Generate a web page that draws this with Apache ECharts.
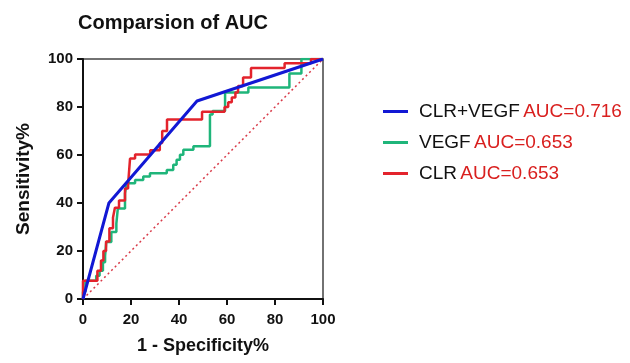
<!DOCTYPE html>
<html>
<head>
<meta charset="utf-8">
<script src="https://cdn.jsdelivr.net/npm/echarts@6/dist/echarts.min.js"></script>
<style>
  html, body { margin: 0; padding: 0; background: #fff; }
  #roc { width: 630px; height: 363px; }
</style>
</head>
<body>
<div id="roc"></div>
<script>
  // ROC steps: at fpr[i] the curve rises to tpr[i]
  var clrFpr = [0, 6, 7.5, 8.5, 9.6, 11, 12.5, 13.3, 15, 17.5, 18.8, 19.6, 21.7, 28, 32, 33, 35, 49.6, 59, 60.5, 62, 63.5, 64.6, 66.7, 70, 84, 95]
  var clrTpr = [7.6, 11.8, 16, 20, 24, 29.5, 34, 38, 41, 46, 48, 58.5, 60.2, 62, 65, 70, 74.8, 78, 80, 82, 84, 86, 88.8, 92.3, 96.2, 98.2, 100]

  var vegfFpr = [0, 1, 5.5, 6.9, 8.3, 9.2, 9.7, 11.8, 13.9, 14.5, 17.5, 18.2, 21.7, 25.1, 27.9, 34.9, 37.6, 39, 40.4, 41.8, 46, 52.9, 54, 59.2, 68.9, 86, 91]
  var vegfTpr = [3, 7.6, 9.7, 11.8, 15.3, 18, 23.7, 27.9, 31.4, 37.7, 44, 48.2, 49.6, 51, 52.4, 53.8, 55.9, 58, 60.1, 62.2, 63.6, 76.9, 78.3, 86, 88.1, 94, 100]

  var combX = [0, 10.8, 47.5, 100]
  var combY = [0, 40, 82.5, 100]

  var names = ['CLR+VEGF', 'VEGF', 'CLR']
  var aucs = ['0.716', '0.653', '0.653']
  var ticks = [0, 20, 40, 60, 80, 100]

  function stepPath(fpr, tpr) {
    var pts = [[0, 0]]
    var lastY = 0
    for (var i = 0; i < fpr.length; i++) {
      pts.push([fpr[i], lastY])
      pts.push([fpr[i], tpr[i]])
      lastY = tpr[i]
    }
    pts.push([100, lastY])
    return pts
  }

  function zip(xs, ys) {
    return xs.map(function (x, i) { return [x, ys[i]] })
  }

  var font = 'Liberation Sans, Arial, sans-serif'
  var myChart = echarts.init(document.getElementById('roc'))
  var option = {
    animation: false,
    title: {
      text: 'Comparsion of AUC',
      left: 168,
      top: 8,
      textAlign: 'center',
      textStyle: { fontFamily: font, fontSize: 20, fontWeight: 'bold', color: '#111' }
    },
    legend: {
      data: names,
      orient: 'vertical',
      left: 378,
      top: 97,
      itemWidth: 25,
      itemHeight: 3,
      itemGap: 12,
      icon: 'rect',
      selectedMode: false,
      formatter: function (name) {
        return '{n|' + name + '} {a|AUC=' + aucs[names.indexOf(name)] + '}'
      },
      textStyle: {
        padding: [0, 0, 0, 6],
        rich: {
          n: { fontFamily: font, fontSize: 19, color: '#111', lineHeight: 21 },
          a: { fontFamily: font, fontSize: 19, color: '#d9201f', lineHeight: 21 }
        }
      }
    },
    grid: {
      left: 83,
      right: 307,
      top: 59,
      bottom: 64,
      show: true,
      borderColor: '#444',
      borderWidth: 1.5
    },
    xAxis: {
      type: 'value',
      min: 0,
      max: 100,
      interval: 20,
      name: '1 - Specificity%',
      nameLocation: 'middle',
      nameGap: 38,
      nameTextStyle: { fontFamily: font, fontSize: 18, fontWeight: 'bold', color: '#111' },
      axisLine: { lineStyle: { color: '#111', width: 2 } },
      axisTick: { length: 6, lineStyle: { color: '#111', width: 2 } },
      axisLabel: {
        margin: 13,
        fontFamily: font, fontSize: 15, fontWeight: 'bold', color: '#111',
        formatter: function (v) { return ticks.indexOf(v) >= 0 ? String(v) : '' }
      },
      splitLine: { show: false }
    },
    yAxis: {
      type: 'value',
      min: 0,
      max: 100,
      interval: 20,
      name: 'Sensitivity%',
      nameLocation: 'middle',
      nameGap: 50,
      nameTextStyle: { fontFamily: font, fontSize: 19, fontWeight: 'bold', color: '#111' },
      axisLine: { show: true, lineStyle: { color: '#111', width: 2 } },
      axisTick: { show: true, length: 6, lineStyle: { color: '#111', width: 2 } },
      axisLabel: {
        margin: 10,
        fontFamily: font, fontSize: 15, fontWeight: 'bold', color: '#111'
      },
      splitLine: { show: false }
    },
    series: [
      {
        name: 'ref',
        type: 'line',
        data: [[0, 0], [100, 100]],
        symbol: 'none',
        silent: true,
        lineStyle: { color: '#d83a48', width: 1.5, type: [2, 3] },
        z: 1
      },
      {
        name: 'VEGF',
        type: 'line',
        data: stepPath(vegfFpr, vegfTpr),
        symbol: 'none',
        lineStyle: { color: '#1fb57a', width: 2.5 },
        itemStyle: { color: '#1fb57a' },
        z: 2
      },
      {
        name: 'CLR',
        type: 'line',
        data: stepPath(clrFpr, clrTpr),
        symbol: 'none',
        lineStyle: { color: '#e3232c', width: 2.5 },
        itemStyle: { color: '#e3232c' },
        z: 3
      },
      {
        name: 'CLR+VEGF',
        type: 'line',
        data: zip(combX, combY),
        symbol: 'none',
        lineStyle: { color: '#1218d4', width: 3 },
        itemStyle: { color: '#1218d4' },
        z: 4
      }
    ]
  }
  myChart.setOption(option)
</script>
</body>
</html>
